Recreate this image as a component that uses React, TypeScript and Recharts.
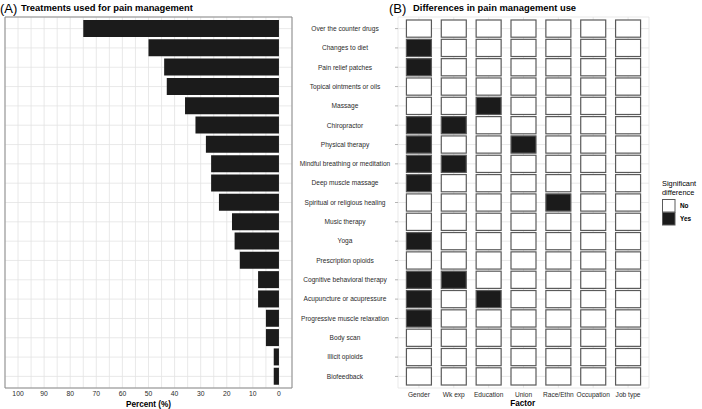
import React from "react";
import { BarChart, Bar, XAxis, YAxis, CartesianGrid, ReferenceArea, ScatterChart, Scatter } from "recharts";

const treatments = [
  "Over the counter drugs",
  "Changes to diet",
  "Pain relief patches",
  "Topical ointments or oils",
  "Massage",
  "Chiropractor",
  "Physical therapy",
  "Mindful breathing or meditation",
  "Deep muscle massage",
  "Spiritual or religious healing",
  "Music therapy",
  "Yoga",
  "Prescription opioids",
  "Cognitive behavioral therapy",
  "Acupuncture or acupressure",
  "Progressive muscle relaxation",
  "Body scan",
  "Illicit opioids",
  "Biofeedback",
];
const percentUsed = [75, 50, 44, 43, 36, 32, 28, 26, 26, 23, 18, 17, 15, 8, 8, 5, 5, 2, 2];
const percentTicks = [0, 5, 10, 15, 20, 25, 30, 35, 40, 45, 50, 55, 60, 65, 70, 75, 80, 85, 90, 95, 100];

const factors = ["Gender", "Wk exp", "Education", "Union", "Race/Ethn", "Occupation", "Job type"];
const sigGender = [
  "Changes to diet",
  "Pain relief patches",
  "Chiropractor",
  "Physical therapy",
  "Mindful breathing or meditation",
  "Deep muscle massage",
  "Yoga",
  "Cognitive behavioral therapy",
  "Acupuncture or acupressure",
  "Progressive muscle relaxation",
];
const sigWkExp = ["Chiropractor", "Mindful breathing or meditation", "Cognitive behavioral therapy"];
const sigEducation = ["Massage", "Acupuncture or acupressure"];
const sigUnion = ["Physical therapy"];
const sigRaceEthn = ["Spiritual or religious healing"];
const sigOccupation: string[] = [];
const sigJobType: string[] = [];
const sigLists = [sigGender, sigWkExp, sigEducation, sigUnion, sigRaceEthn, sigOccupation, sigJobType];
const legendLevels = ["No", "Yes"];

const FONT = "'Liberation Sans', Arial, Helvetica, sans-serif";
const DARK = "#1b1b1b";
const TEXT = "#2a2a2a";
const GRID = "#e3e3e3";

const nRows = treatments.length;
const rowTicks = treatments.map((_, i) => i);
const rowDomain = [-0.6, nRows - 0.4];
// the scatter's y axis runs bottom-up, so its rows are numbered from the bottom
const tileRow = (i: number) => nRows - 1 - i;

// the vertical bar layout runs its y axis top-down: row i is the i-th treatment
const barData = treatments.map((name, i) => ({ name, row: i, pct: percentUsed[i] }));
const tiles = factors.flatMap((f, fi) =>
  treatments.map((t, ti) => ({ x: fi, y: tileRow(ti), factor: f, treatment: t, sig: sigLists[fi].includes(t) }))
);

const EmptyTick = () => <g />;

const PercentTick = (props: any) => {
  const { x, y, payload } = props;
  if (payload.value % 10 !== 0) return null;
  return (
    <text x={x} y={y + 8} textAnchor="middle" fontSize={6.8} fill={TEXT} fontFamily={FONT}>
      {payload.value}
    </text>
  );
};

const FactorTick = (props: any) => {
  const { x, y, payload } = props;
  return (
    <text x={x} y={y + 9} textAnchor="middle" fontSize={6.6} fill={TEXT} fontFamily={FONT}>
      {factors[payload.value]}
    </text>
  );
};

const TreatmentTick = (props: any) => {
  const { y, payload } = props;
  return (
    <text x={65} y={y} dy="0.35em" textAnchor="middle" fontSize={6.6} fill={TEXT} fontFamily={FONT}>
      {treatments[tileRow(payload.value)]}
    </text>
  );
};

const Tile = (props: any) => {
  const { cx, cy, payload } = props;
  const w = 25;
  const h = 17.2;
  return (
    <rect
      x={cx - w / 2}
      y={cy - h / 2}
      width={w}
      height={h}
      fill={payload.sig ? DARK : "#fff"}
      stroke="#5a5a5a"
      strokeWidth={1.2}
    />
  );
};

export default function App() {
  return (
    <div style={{ position: "absolute", left: 0, top: 0, width: 702, height: 409, background: "#fff", fontFamily: FONT }}>
      <div style={{ position: "absolute", left: 0, top: 0 }}>
        <BarChart width={300} height={409} data={barData} layout="vertical" margin={{ top: 17, right: 8, bottom: 0, left: 5 }}>
          <CartesianGrid stroke={GRID} strokeWidth={0.8} />
          <XAxis
            type="number"
            dataKey="pct"
            domain={[-5, 105]}
            allowDataOverflow
            reversed
            ticks={percentTicks}
            interval={0}
            tick={<PercentTick />}
            tickSize={0}
            tickMargin={0}
            axisLine={false}
            tickLine={false}
            height={21}
          />
          <YAxis
            type="number"
            dataKey="row"
            domain={rowDomain}
            allowDataOverflow
            ticks={rowTicks}
            interval={0}
            tick={<EmptyTick />}
            tickLine={false}
            axisLine={false}
            width={0}
          />
          <Bar dataKey="pct" fill={DARK} barSize={17} isAnimationActive={false} />
          <ReferenceArea x1={-5} x2={105} fill="none" stroke="#8a8a8a" strokeWidth={1} ifOverflow="visible" />
        </BarChart>
      </div>

      <div style={{ position: "absolute", left: 280, top: 0 }}>
        <ScatterChart width={422} height={409} margin={{ top: 17, right: 53, bottom: 0, left: 0 }}>
          <CartesianGrid stroke={GRID} strokeWidth={0.8} />
          <XAxis
            type="number"
            dataKey="x"
            domain={[-0.6, factors.length - 0.4]}
            allowDataOverflow
            ticks={factors.map((_, i) => i)}
            interval={0}
            tick={<FactorTick />}
            tickSize={0}
            tickMargin={0}
            axisLine={false}
            tickLine={false}
            height={21}
          />
          <YAxis
            type="number"
            dataKey="y"
            domain={rowDomain}
            allowDataOverflow
            ticks={rowTicks}
            interval={0}
            tick={<TreatmentTick />}
            tickSize={3}
            tickMargin={0}
            axisLine={false}
            tickLine={{ stroke: "#b5b5b5" }}
            width={118}
          />
          <Scatter data={tiles} shape={<Tile />} isAnimationActive={false} />
        </ScatterChart>
      </div>

      <svg width={702} height={409} style={{ position: "absolute", left: 0, top: 0, pointerEvents: "none" }}>
        <g fontFamily={FONT} fill="#000">
          <text x={0} y={13} fontSize={13}>(A)</text>
          <text x={21} y={11} fontSize={9.4} fontWeight="bold">Treatments used for pain management</text>
          <text x={389} y={13} fontSize={13}>(B)</text>
          <text x={413} y={11} fontSize={9.4} fontWeight="bold">Differences in pain management use</text>
          <text x={148.5} y={406.5} fontSize={8.2} fontWeight="bold" textAnchor="middle">Percent (%)</text>
          <text x={522.7} y={406} fontSize={8.2} fontWeight="bold" textAnchor="middle">Factor</text>
          <text x={662} y={185.5} fontSize={7.4}>Significant</text>
          <text x={662} y={194.7} fontSize={7.4}>difference</text>
          {legendLevels.map((lvl, i) => (
            <g key={lvl}>
              <rect
                x={662.5}
                y={199.5 + i * 13}
                width={12.5}
                height={12.5}
                fill={i === 1 ? DARK : "#fff"}
                stroke="#5a5a5a"
                strokeWidth={1}
              />
              <text x={680} y={208.3 + i * 13} fontSize={6.4} fontWeight="bold">{lvl}</text>
            </g>
          ))}
        </g>
      </svg>
    </div>
  );
}
